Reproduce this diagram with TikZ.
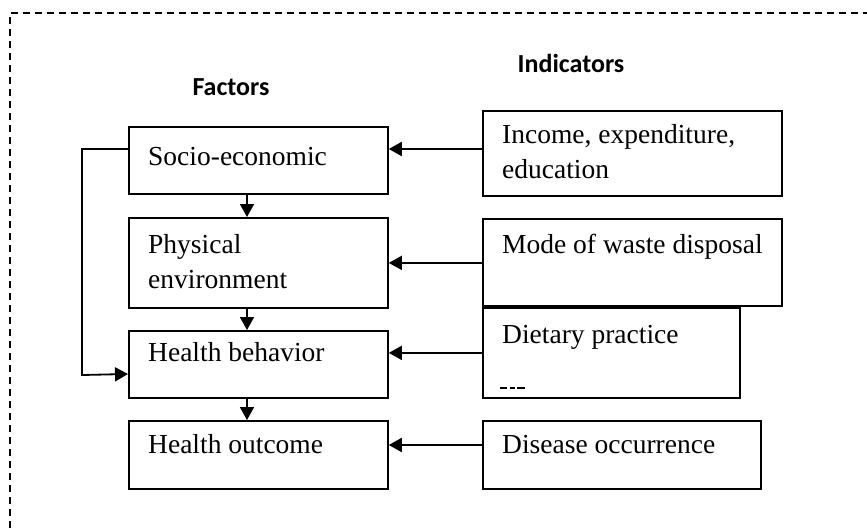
\documentclass[tikz,border=0pt]{standalone}
\usepackage{fontspec}
\setmainfont{Liberation Serif}
\newfontfamily\hdfont{Carlito}
\usetikzlibrary{arrows.meta}
\begin{document}
\begin{tikzpicture}[x=1pt,y=-1pt,
 box/.style={draw,line width=1.8pt,inner sep=0pt,anchor=north west},
 lbl/.style={anchor=base west,inner sep=0pt,font=\fontsize{27.5}{35}\selectfont},
 hd/.style={font=\hdfont\bfseries\fontsize{26}{30}\selectfont,inner sep=0pt,anchor=base},
 arr/.style={line width=1.8pt,-{Triangle[length=13pt,width=14pt]}},
 ln/.style={line width=1.8pt}]
\useasboundingbox (0,0) rectangle (867,531);
\draw[line width=1.3pt, dash pattern=on 7pt off 5pt] (10,540) -- (10,13) -- (875,13);
% headers
\node[hd] (fac) at (231,95) {Factors};
\node[hd] (ind) at (571,72) {Indicators};
% left boxes
\node[box,minimum width=259pt,minimum height=67pt] (se) at (128,126) {};
\node[box,minimum width=259pt,minimum height=90pt] (pe) at (128,217) {};
\node[box,minimum width=259pt,minimum height=67pt] (hb) at (128,330) {};
\node[box,minimum width=259pt,minimum height=68pt] (ho) at (128,420) {};
% right boxes
\node[box,minimum width=299pt,minimum height=85pt] (inc) at (482,110) {};
\node[box,minimum width=299pt,minimum height=87pt] (mode) at (482,218) {};
\node[box,minimum width=257pt,minimum height=90pt] (diet) at (482,307) {};
\node[box,minimum width=278pt,minimum height=68pt] (dis) at (482,420) {};
% texts
\node[lbl] (tse) at (148,165) {Socio-economic};
\node[lbl] (tpe1) at (148,253) {Physical};
\node[lbl] (tpe2) at (148,288) {environment};
\node[lbl] (thb) at (148,361) {Health behavior};
\node[lbl] (tho) at (148,453) {Health outcome};
\node[lbl] (tinc1) at (502,143) {Income, expenditure,};
\node[lbl] (tinc2) at (502,178) {education};
\node[lbl] (tmode) at (502,253) {Mode of waste disposal};
\node[lbl] (tdiet) at (502,343) {Dietary practice};
\node[lbl] (tdis) at (502,453) {Disease occurrence};
\draw[line width=1.2pt] (500,388) -- (507,388) (510,388) -- (515,388) (517,388) -- (525,388);
% arrows right to left
\draw[arr] (inc.west |- 0,149) -- (se.east |- 0,149);
\draw[arr] (mode.west |- pe.east) -- (pe.east);
\draw[arr] (diet.west) -- (hb.east |- diet.west);
\draw[arr] (dis.west |- 0,445) -- (ho.east |- 0,445);
% vertical arrows
\draw[arr] (se.south -| 247,0) -- (pe.north -| 247,0);
\draw[arr] (pe.south -| 247,0) -- (hb.north -| 247,0);
\draw[arr] (hb.south -| 247,0) -- (ho.north -| 247,0);
% loop
\draw[arr] (se.west |- 0,149) -- (82,149) -- (82,375) -- (hb.west |- 0,374);
\end{tikzpicture}
\end{document}
